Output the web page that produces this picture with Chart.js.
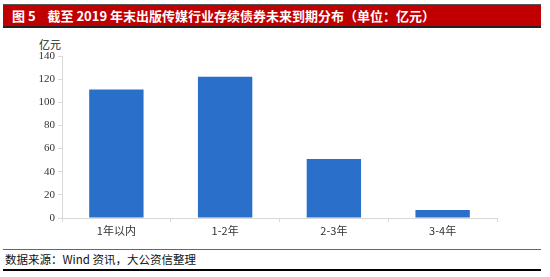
<!DOCTYPE html>
<html>
<head>
<meta charset="utf-8">
<script src="https://cdn.jsdelivr.net/npm/chart.js@4/dist/chart.umd.min.js"></script>
<style>
  html, body { margin: 0; padding: 0; background: #fff; }
  body { width: 550px; height: 277px; position: relative; overflow: hidden;
         font-family: "Noto Sans CJK SC", "Noto Sans", sans-serif; }
  #title { position: absolute; left: 3px; top: 4px; width: 538px; height: 21px;
           background: #c00000; border-top: 1px solid #555; border-bottom: 2px solid #222;
           color: #fff; font-weight: bold; font-size: 13px; line-height: 21px;
           box-sizing: content-box; white-space: pre; }
  #title span { position: absolute; left: 9px; top: 0; }
  #unit { position: absolute; left: 39px; top: 36px; font-size: 11px; color: #222; }
  #wrap { position: absolute; left: 0; top: 30px; width: 550px; height: 215px; }
  #rule1 { position: absolute; left: 3px; top: 249px; width: 538px; height: 1px; background: #666; }
  #source { position: absolute; left: 5px; top: 251px; font-size: 11.5px; color: #111; line-height: 17px; }
  #rule2 { position: absolute; left: 3px; top: 269px; width: 538px; height: 2px; background: #000; }
</style>
</head>
<body>
<div id="title"><span>图 5    截至 2019 年末出版传媒行业存续债券未来到期分布（单位：亿元）</span></div>
<div id="unit">亿元</div>
<div id="wrap"><canvas id="c" width="550" height="215"></canvas></div>
<div id="rule1"></div>
<div id="source">数据来源：Wind 资讯，大公资信整理</div>
<div id="rule2"></div>
<script>
// Bond maturity buckets and outstanding amounts (亿元)
const categories = ['1年以内', '1-2年', '2-3年', '3-4年'];
const amounts = [111, 122, 51, 7];
const yTicks = [0, 20, 40, 60, 80, 100, 120, 140];

const axisColor = '#d9d9d9';
const tickFont = { family: '"Liberation Serif", "Noto Sans CJK SC", serif', size: 11 };

new Chart(document.getElementById('c'), {
  type: 'bar',
  data: {
    labels: categories,
    datasets: [{
      data: amounts,
      backgroundColor: '#2a6fca',
      borderColor: '#3b7fd6',
      borderWidth: 0,
      categoryPercentage: 1,
      barPercentage: 0.5
    }]
  },
  options: {
    responsive: false,
    animation: false,
    devicePixelRatio: 1,
    layout: { padding: { top: 26, right: 53, bottom: 0, left: 0 } },
    plugins: { legend: { display: false }, tooltip: { enabled: false } },
    scales: {
      x: {
        grid: { display: true, drawOnChartArea: false, color: axisColor, tickLength: 4, offset: true },
        border: { color: axisColor },
        ticks: { color: '#333', font: { family: '"Noto Sans CJK SC", sans-serif', size: 11 }, padding: 2 },
        afterFit: s => { s.height = 27; }
      },
      y: {
        min: 0, max: 140,
        afterBuildTicks: s => { s.ticks = yTicks.map(v => ({ value: v })); },
        grid: { display: true, drawOnChartArea: false, color: axisColor, tickLength: 4 },
        border: { color: axisColor },
        ticks: { color: '#333', font: tickFont, padding: 3 },
        afterFit: s => { s.width = 62; }
      }
    }
  }
});
</script>
</body>
</html>
